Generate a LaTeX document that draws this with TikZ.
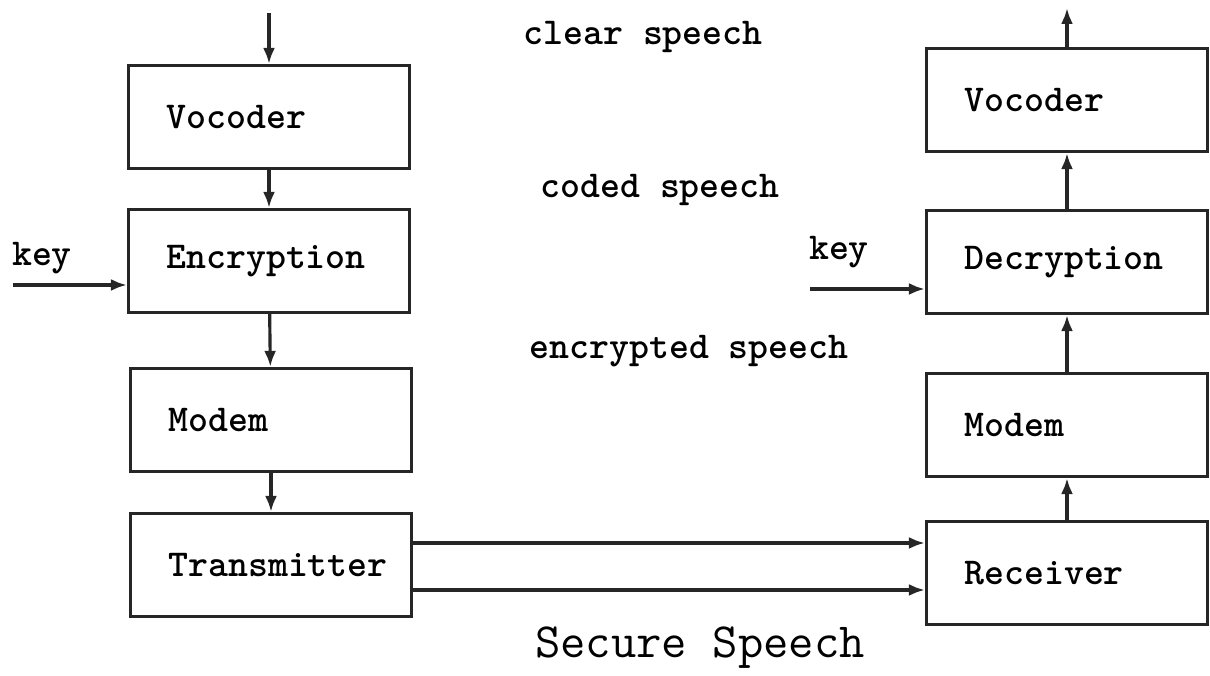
\documentclass[tikz,border=0pt]{standalone}
\usepackage{tikz}
\usetikzlibrary{arrows.meta}

\begin{document}
\begin{tikzpicture}
    [x=0.1mm, y=-0.1mm,
    link/.style={-{Latex[length=1.6mm,width=1.2mm]},
                 black!85,
                 line width=0.9pt},
    blk/.style={rectangle,
                draw=black!85,
                line width=0.9pt,
                minimum width=2.81cm,
                minimum height=1.03cm,
                inner xsep=3.8mm,
                text width=2.05cm,
                align=left,
                font=\fontsize{10.8}{13}\selectfont\ttfamily\bfseries},
    txt/.style={font=\fontsize{10.8}{13}\selectfont\ttfamily\bfseries}]
    \useasboundingbox (0,0) rectangle (1210,676);
    % sending side
    \node [blk] (Voc1) at (269,117) {Vocoder};
    \node [blk] (Enc) at (269,261) {Encryption};
    \node [blk] (Mod1) at (271,420) {Modem};
    \node [blk] (Tx) at (271,565) {Transmitter};
    % receiving side
    \node [blk] (Voc2) at (1067,100) {Vocoder};
    \node [blk] (Dec) at (1067,262) {Decryption};
    \node [blk] (Mod2) at (1067,425) {Modem};
    \node [blk] (Rx) at (1067,573) {Receiver};
    % labels
    \node [txt] (KeyA) at (42,258) {key};
    \node [txt] (KeyB) at (839,252) {key};
    \node [txt] (Clear) at (643,37) {clear speech};
    \node [txt] (Coded) at (660,190) {coded speech};
    \node [txt] (Encr) at (689,351) {encrypted speech};
    \node [font=\fontsize{14}{17}\selectfont\ttfamily] (Title) at (700,648) {Secure Speech};
    \coordinate (In) at (269,13);
    \coordinate (Out) at (1067,8);
    \coordinate (KeyInA) at (13,285);
    \coordinate (KeyInB) at (810,289);
    \draw[link] (In) -- (Voc1);
    \draw[link] (Voc1) -- (Enc);
    \draw[link] (Enc) -- (Mod1);
    \draw[link] (Mod1) -- (Tx);
    \draw[link] (KeyInA) -- (KeyInA -| Enc.west);
    \draw[link] ([yshift=2.2mm]Tx.east) -- ([yshift=2.2mm]Tx.east -| Rx.west);
    \draw[link] ([yshift=-2.5mm]Tx.east) -- ([yshift=-2.5mm]Tx.east -| Rx.west);
    \draw[link] (Rx) -- (Mod2);
    \draw[link] (Mod2) -- (Dec);
    \draw[link] (KeyInB) -- (KeyInB -| Dec.west);
    \draw[link] (Dec) -- (Voc2);
    \draw[link] (Voc2) -- (Out);
\end{tikzpicture}
\end{document}
